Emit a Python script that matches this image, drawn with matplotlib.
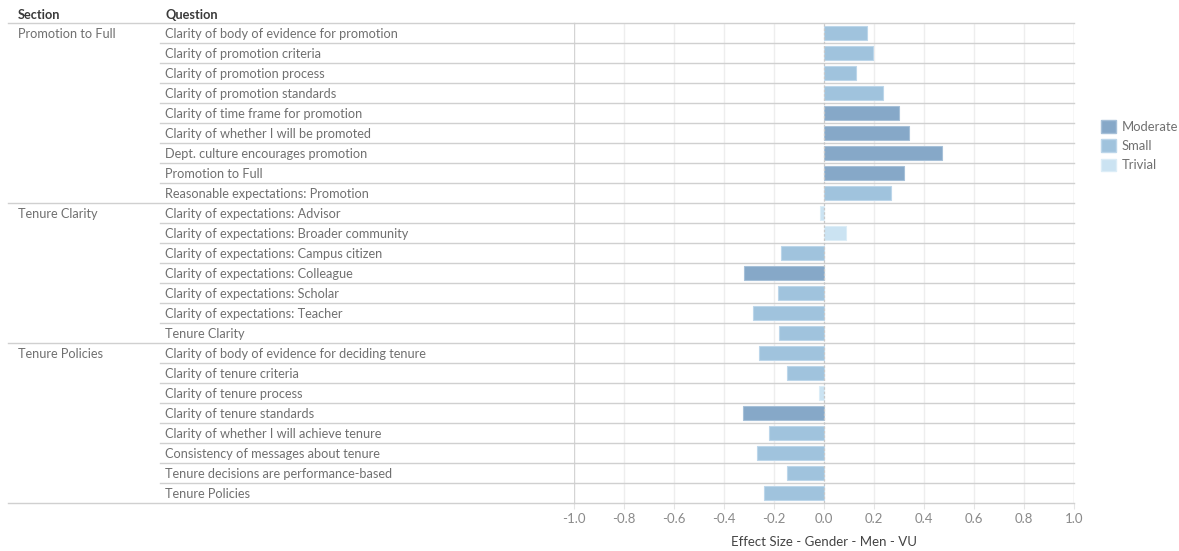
import matplotlib.pyplot as plt
from matplotlib.patches import Patch

plt.rcParams['font.family'] = ['Lato', 'DejaVu Sans']

sections = ['Promotion to Full'] * 9 + ['Tenure Clarity'] * 7 + ['Tenure Policies'] * 8
questions = [
    'Clarity of body of evidence for promotion',
    'Clarity of promotion criteria',
    'Clarity of promotion process',
    'Clarity of promotion standards',
    'Clarity of time frame for promotion',
    'Clarity of whether I will be promoted',
    'Dept. culture encourages promotion',
    'Promotion to Full',
    'Reasonable expectations: Promotion',
    'Clarity of expectations: Advisor',
    'Clarity of expectations: Broader community',
    'Clarity of expectations: Campus citizen',
    'Clarity of expectations: Colleague',
    'Clarity of expectations: Scholar',
    'Clarity of expectations: Teacher',
    'Tenure Clarity',
    'Clarity of body of evidence for deciding tenure',
    'Clarity of tenure criteria',
    'Clarity of tenure process',
    'Clarity of tenure standards',
    'Clarity of whether I will achieve tenure',
    'Consistency of messages about tenure',
    'Tenure decisions are performance-based',
    'Tenure Policies',
]
effect = [0.172, 0.196, 0.128, 0.236, 0.30, 0.34, 0.472, 0.32, 0.268,
          -0.015, 0.088, -0.171, -0.319, -0.183, -0.283, -0.179,
          -0.259, -0.147, -0.019, -0.323, -0.219, -0.267, -0.147, -0.239]
size = ['Small', 'Small', 'Small', 'Small', 'Moderate', 'Moderate', 'Moderate', 'Moderate', 'Small',
        'Trivial', 'Trivial', 'Small', 'Moderate', 'Small', 'Small', 'Small',
        'Small', 'Small', 'Trivial', 'Moderate', 'Small', 'Small', 'Small', 'Small']
ticks = [-1.0, -0.8, -0.6, -0.4, -0.2, 0.0, 0.2, 0.4, 0.6, 0.8, 1.0]

colors = {'Moderate': '#86a8c8', 'Small': '#a0c3dd', 'Trivial': '#cbe3f2'}
edges = {'Moderate': '#a6c0d8', 'Small': '#bcd6ea', 'Trivial': '#dcedf7'}
fs = 9.2

W, H = 1179, 551
fig = plt.figure(figsize=(W / 100, H / 100), dpi=100)
bot, top = 48, 23
ax = fig.add_axes([574 / W, bot / H, 500 / W, (H - bot - top) / H])
tab = fig.add_axes([0, bot / H, 574 / W, (H - bot - top) / H])

n = len(questions)
ys = list(range(n))
for a in (ax, tab):
    a.set_ylim(n - 0.5, -0.5)
    for s in a.spines.values():
        s.set_visible(False)

# bars
ax.barh(ys, effect, height=0.73, color=[colors[s] for s in size],
        edgecolor=[edges[s] for s in size], linewidth=0.8, zorder=3)
ax.set_xlim(-1.0, 1.0)
ax.set_xticks(ticks)
ax.set_xticklabels(['%.1f' % t for t in ticks])
ax.tick_params(axis='x', length=4, color='#e4e4e4', labelsize=fs + 0.3,
               labelcolor='#8a8a8a', pad=3)
ax.tick_params(axis='y', left=False, labelleft=False)
for t in ticks:
    if t == 0.0:
        ax.axvline(t, color='#c8c8c8', lw=0.9, ls=(0, (2, 1.5)), zorder=4)
    elif abs(t) == 1.0:
        ax.axvline(t, color='#d4d4d4', lw=1.0, zorder=1)
    else:
        ax.axvline(t, color='#eeeeee', lw=1.0, zorder=1)
ax.set_xlabel('Effect Size - Gender - Men - VU', fontsize=fs + 0.3, color='#444444', labelpad=8)

# row separators
tab.set_xlim(0, 574)
tab.set_xticks([])
tab.set_yticks([])
tab.patch.set_alpha(0)
for i in range(n + 1):
    y = i - 0.5
    new_sec = i == 0 or i == n or sections[i] != sections[i - 1]
    x0 = 8 if new_sec else 160
    tab.plot([x0, 574], [y, y], color='#d0d0d0', lw=1.0, clip_on=False)
    ax.axhline(y, color='#d0d0d0', lw=1.0, zorder=2, clip_on=False)

for i, q in enumerate(questions):
    tab.text(165, i + 0.05, q, va='center', ha='left', fontsize=fs, color='#707070')
    if i == 0 or sections[i] != sections[i - 1]:
        tab.text(18, i + 0.05, sections[i], va='center', ha='left', fontsize=fs, color='#707070')

tab.text(18, -0.9, 'Section', va='center', ha='left', fontsize=fs,
         color='#3a3a3a', fontweight='bold', clip_on=False)
tab.text(165, -0.9, 'Question', va='center', ha='left', fontsize=fs,
         color='#3a3a3a', fontweight='bold', clip_on=False)

handles = [Patch(facecolor=colors[k], edgecolor=edges[k]) for k in ['Moderate', 'Small', 'Trivial']]
leg = fig.legend(handles, ['Moderate', 'Small', 'Trivial'], loc='upper left',
                 bbox_to_anchor=(1096 / W, 1 - 115 / H), frameon=False,
                 fontsize=fs + 0.2, handlelength=1.1, handleheight=1.1,
                 handletextpad=0.45, labelspacing=0.5, borderaxespad=0)
for txt in leg.get_texts():
    txt.set_color('#707070')

fig.savefig('out.png', dpi=100)
